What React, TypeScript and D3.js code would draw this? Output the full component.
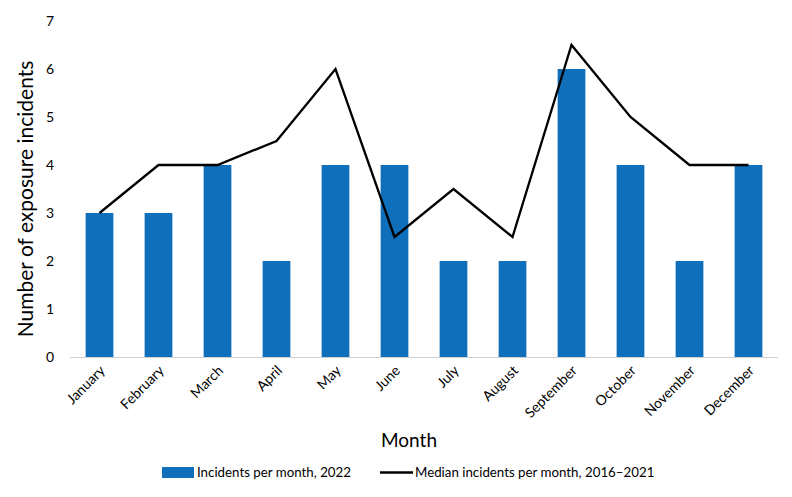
import { useEffect, useRef } from 'react'
import * as d3 from 'd3'

const months = ['January', 'February', 'March', 'April', 'May', 'June', 'July', 'August', 'September', 'October', 'November', 'December']
const incidents2022 = [3, 3, 4, 2, 4, 4, 2, 2, 6, 4, 2, 4]
const median2016to2021 = [3, 4, 4, 4.5, 6, 2.5, 3.5, 2.5, 6.5, 5, 4, 4]
const yTicks = [0, 1, 2, 3, 4, 5, 6, 7]

const W = 792
const H = 497
const FONT = 'Lato, "Noto Sans", sans-serif'

export default function App() {
  const svgRef = useRef<SVGSVGElement | null>(null)

  useEffect(() => {
    if (!svgRef.current) return
    const svg = d3.select(svgRef.current)
    svg.selectAll('*').remove()

    const left = 70
    const right = 778
    const top = 21
    const bottom = 357

    const x = d3.scaleBand<string>().domain(months).range([left, right]).padding(0)
    const y = d3.scaleLinear().domain([0, 7]).range([bottom, top])
    const barW = x.bandwidth() * 0.47
    const cx = (m: string) => (x(m) ?? 0) + x.bandwidth() / 2

    // y tick labels
    svg.append('g')
      .selectAll('text')
      .data(yTicks)
      .join('text')
      .attr('x', 54)
      .attr('y', d => y(d))
      .attr('dy', '0.35em')
      .attr('text-anchor', 'end')
      .attr('font-family', FONT)
      .attr('font-size', 14)
      .attr('fill', '#000')
      .text(d => d)

    // bars
    svg.append('g')
      .selectAll('rect')
      .data(incidents2022)
      .join('rect')
      .attr('x', (d, i) => cx(months[i]) - barW / 2)
      .attr('y', d => y(d))
      .attr('width', barW)
      .attr('height', d => y(0) - y(d))
      .attr('fill', '#0f6fba')

    // baseline
    svg.append('line')
      .attr('x1', left).attr('x2', right)
      .attr('y1', bottom + 0.5).attr('y2', bottom + 0.5)
      .attr('stroke', '#d0d0d0')
      .attr('stroke-width', 1)

    // median line
    const line = d3.line<number>()
      .x((d, i) => cx(months[i]))
      .y(d => y(d))
    svg.append('path')
      .datum(median2016to2021)
      .attr('d', line)
      .attr('fill', 'none')
      .attr('stroke', '#000')
      .attr('stroke-width', 2.3)
      .attr('stroke-linejoin', 'miter')

    // x tick labels
    svg.append('g')
      .selectAll('text')
      .data(months)
      .join('text')
      .attr('transform', d => `translate(${cx(d) + 3},${bottom + 11}) rotate(-45)`)
      .attr('text-anchor', 'end')
      .attr('dy', '0.35em')
      .attr('font-family', FONT)
      .attr('font-size', 14)
      .attr('fill', '#000')
      .text(d => d)

    // axis titles
    svg.append('text')
      .attr('transform', `translate(33,199) rotate(-90)`)
      .attr('text-anchor', 'middle')
      .attr('font-family', FONT)
      .attr('font-size', 21)
      .attr('fill', '#000')
      .text('Number of exposure incidents')

    svg.append('text')
      .attr('x', 409)
      .attr('y', 447)
      .attr('text-anchor', 'middle')
      .attr('font-family', FONT)
      .attr('font-size', 19)
      .attr('fill', '#000')
      .text('Month')

    // legend
    const lg = svg.append('g').attr('font-family', FONT).attr('font-size', 13.3).attr('fill', '#000')
    lg.append('rect').attr('x', 162).attr('y', 467).attr('width', 32).attr('height', 11).attr('fill', '#0f6fba')
    lg.append('text').attr('x', 197).attr('y', 472.5).attr('dy', '0.35em').text('Incidents per month, 2022')
    lg.append('line').attr('x1', 380).attr('x2', 413).attr('y1', 472.5).attr('y2', 472.5)
      .attr('stroke', '#000').attr('stroke-width', 2.3)
    lg.append('text').attr('x', 415).attr('y', 472.5).attr('dy', '0.35em').text('Median incidents per month, 2016–2021')
  }, [])

  return <svg ref={svgRef} width={W} height={H} style={{ display: 'block', position: 'absolute', left: 0, top: 0 }} />
}
